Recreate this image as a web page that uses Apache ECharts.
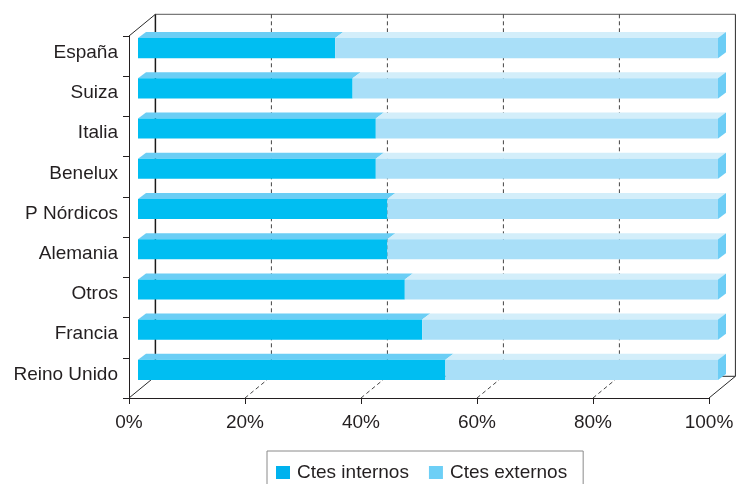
<!DOCTYPE html>
<html><head><meta charset="utf-8">
<script src="https://cdn.jsdelivr.net/npm/echarts@6.0.0/dist/echarts.min.js"></script>
<style>html,body{margin:0;padding:0;background:#fff}#c{width:739px;height:484px}</style>
</head><body><div id="c"></div>
<script>
const categories = ['España','Suiza','Italia','Benelux','P Nórdicos','Alemania','Otros','Francia','Reino Unido'];
const internos = [34, 37, 41, 41, 43, 43, 46, 49, 53];
const externos = [66, 63, 59, 59, 57, 57, 54, 51, 47];
const xTicks = [0, 20, 40, 60, 80, 100];
const seriesNames = ['Ctes internos', 'Ctes externos'];

const FONT = "'Liberation Sans', Arial, Helvetica, sans-serif";
const INK = '#231F20';
const DEPTH = [26.4, -21.7];   // box depth
const BAR_OFF = [9, -8];       // bar plane offset from front
const BAR_DEPTH = [8, -6];     // bar thickness

const faces = {
  int: { front: '#00BEF2', top: '#6BCEF5' },
  ext: { front: '#A9DFF8', top: '#D3EEFA', side: '#6CCDF5' }
};

const chart = echarts.init(document.getElementById('c'), null, { renderer: 'canvas' });

function barRender(kind) {
  return function (params, api) {
    const s = api.value(0), e = api.value(1), c = api.value(2);
    const p0 = api.coord([s, c]);
    const p1 = api.coord([e, c]);
    const band = api.size([0, 1])[1];
    const h = band * 0.5;
    const x0 = p0[0] + BAR_OFF[0], x1 = p1[0] + BAR_OFF[0];
    const yc = p0[1] + BAR_OFF[1];
    const yT = yc - h / 2, yB = yc + h / 2;
    const [ddx, ddy] = BAR_DEPTH;
    const col = faces[kind];
    const children = [
      { type: 'polygon', shape: { points: [[x0, yT], [x1, yT], [x1 + ddx, yT + ddy], [x0 + ddx, yT + ddy]] },
        style: { fill: col.top } },
      { type: 'rect', shape: { x: x0, y: yT, width: x1 - x0, height: h }, style: { fill: col.front } }
    ];
    if (kind === 'ext') {
      children.push({ type: 'polygon',
        shape: { points: [[x1, yT], [x1 + ddx, yT + ddy], [x1 + ddx, yB + ddy], [x1, yB]] },
        style: { fill: col.side } });
    }
    return { type: 'group', children };
  };
}

function frameRender(params, api) {
  const cs = params.coordSys;
  const fx0 = cs.x, fx1 = cs.x + cs.width, fy0 = cs.y, fy1 = cs.y + cs.height;
  const [dx, dy] = DEPTH;
  const bx0 = fx0 + dx, bx1 = fx1 + dx, by0 = fy0 + dy, by1 = fy1 + dy;
  const solid = { stroke: '#2a2a2a', lineWidth: 1 };
  const line = (a, b, st) => ({ type: 'line', shape: { x1: a[0], y1: a[1], x2: b[0], y2: b[1] }, style: st });
  const ch = [
    line([bx0, by0], [bx1, by0], { stroke: '#7a7a7a', lineWidth: 1.2 }),
    line([bx0, by0], [bx0, by1], { stroke: '#1a1a1a', lineWidth: 1.5 }),
    line([bx1, by0], [bx1, by1], solid),
    line([bx0, by1], [bx1, by1], solid),
    line([fx0, fy0], [bx0, by0], solid),
    line([fx0, fy1], [bx0, by1], solid),
    line([fx1, fy1], [bx1, by1], solid)
  ];
  const dash = { stroke: '#444', lineWidth: 1, lineDash: [4, 3] };
  xTicks.slice(1, -1).forEach(v => {
    const fx = api.coord([v, 0])[0];
    ch.push(line([fx + dx, by0], [fx + dx, by1], dash));
    ch.push(line([fx, fy1], [fx + dx, by1], dash));
  });
  return { type: 'group', children: ch };
}

const option = {
  animation: false,
  backgroundColor: '#fff',
  textStyle: { fontFamily: FONT, color: INK },
  grid: { left: 129, right: 30, top: 36, bottom: 86, containLabel: false },
  xAxis: {
    type: 'value', min: 0, max: 100, interval: 20,
    axisLine: { show: true, lineStyle: { color: INK, width: 1 } },
    axisTick: { show: true, length: 6, lineStyle: { color: INK } },
    splitLine: { show: false },
    axisLabel: { formatter: '{value}%', fontSize: 19, color: INK, margin: 15, fontFamily: FONT }
  },
  yAxis: {
    type: 'category', data: categories, inverse: true,
    axisLine: { show: true, lineStyle: { color: INK, width: 1 } },
    axisTick: { show: true, length: 6, lineStyle: { color: INK } },
    splitLine: { show: false },
    axisLabel: {
      margin: 11,
      formatter: '{a|{value}}',
      rich: { a: { fontSize: 19, color: INK, fontFamily: FONT, padding: [0, 0, 7, 0] } }
    }
  },
  legend: {
    data: seriesNames,
    left: 267, top: 451,
    orient: 'horizontal',
    icon: 'rect', itemWidth: 14, itemHeight: 13, itemGap: 20,
    padding: [12, 16, 14, 9],
    borderColor: '#8a8a8a', borderWidth: 1,
    textStyle: { fontSize: 19, color: INK, fontFamily: FONT, padding: [0, 0, 0, 2] }
  },
  series: [
    { type: 'custom', name: '_frame', silent: true, clip: false, z: 1,
      renderItem: frameRender, data: [[0, 0]], encode: { x: 0, y: 1 } },
    { type: 'custom', name: seriesNames[0], clip: false, z: 3,
      itemStyle: { color: '#00B2EE' },
      renderItem: barRender('int'),
      data: internos.map((v, i) => [0, v, i]), encode: { x: [0, 1], y: 2 } },
    { type: 'custom', name: seriesNames[1], clip: false, z: 3,
      itemStyle: { color: '#6DCFF6' },
      renderItem: barRender('ext'),
      data: externos.map((v, i) => [internos[i], internos[i] + v, i]), encode: { x: [0, 1], y: 2 } }
  ]
};
chart.setOption(option);
</script>
</body></html>
